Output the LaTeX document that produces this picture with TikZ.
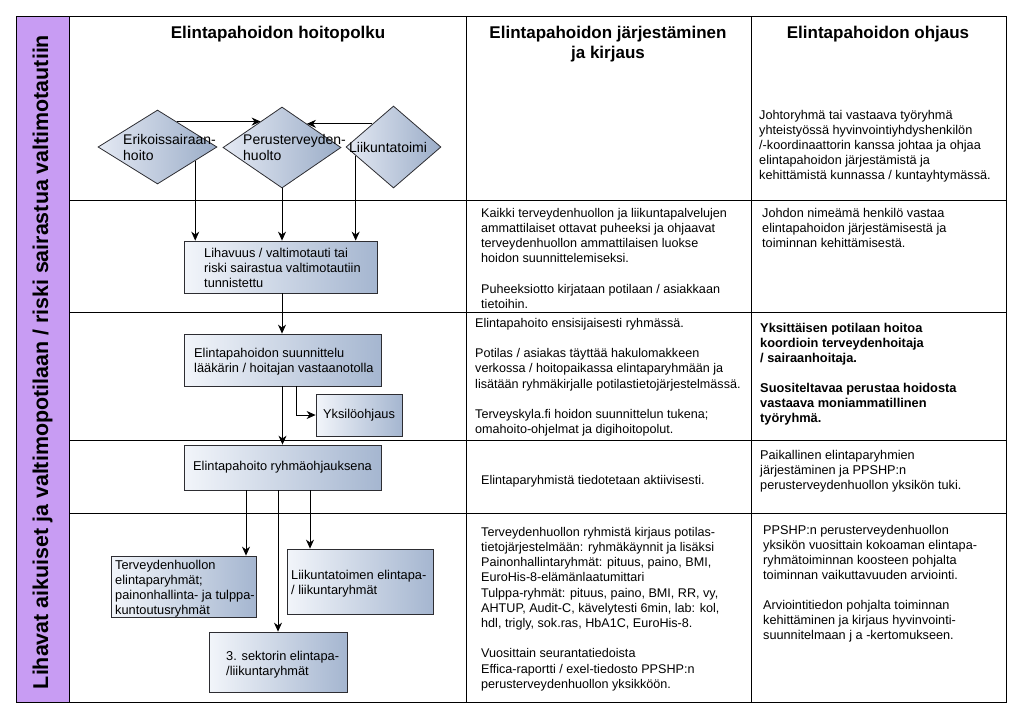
\documentclass[tikz,border=0pt]{standalone}
\usepackage{fontspec}
\setmainfont{Liberation Sans}
\usetikzlibrary{shapes.geometric,arrows.meta,calc}
\definecolor{band}{RGB}{200,156,243}
\definecolor{boxL}{RGB}{242,245,250}
\definecolor{boxR}{RGB}{165,182,208}
\definecolor{diaL}{RGB}{228,233,243}
\definecolor{diaR}{RGB}{155,173,200}
\definecolor{boxline}{RGB}{45,45,50}
\tikzset{
  gridline/.style={line width=0.9pt, black},
  fbox/.style={rectangle, draw=boxline, line width=0.8pt, left color=boxL, right color=boxR, inner sep=0},
  dia/.style={diamond, draw=boxline, line width=0.8pt, left color=diaL, right color=diaR, inner sep=0},
  flowtxt/.style={anchor=north west, inner sep=0, align=left, font=\fontsize{12.8}{15}\selectfont},
  diatxt/.style={anchor=north west, inner sep=0, align=left, font=\fontsize{14}{16}\selectfont},
  midtxt/.style={anchor=north west, inner sep=0, align=left, font=\fontsize{12.6}{15.2}\selectfont},
  righttxt/.style={anchor=north west, inner sep=0, align=left, font=\fontsize{12.7}{15}\selectfont},
  head/.style={inner sep=0, align=center, font=\bfseries\fontsize{17}{20}\selectfont},
  arr/.style={-{Stealth[length=9pt,width=8pt]}, line width=0.8pt},
}
\begin{document}
\begin{tikzpicture}[x=1pt,y=-1pt]
\useasboundingbox (0,0) rectangle (1024,713);
% table
\fill[band] (16,16) rectangle (69,702);
\draw[gridline] (16,16) rectangle (1006,702);
\draw[gridline] (69,16) -- (69,702);
\draw[gridline] (466,16) -- (466,702);
\draw[gridline] (751,16) -- (751,702);
\foreach \yy in {200,312,440,513} \draw[gridline] (69,\yy) -- (1006,\yy);
% side label
\node[rotate=90, inner sep=0, font=\bfseries\fontsize{21.4}{24}\selectfont] (side) at (42.5,362)
  {Lihavat aikuiset ja valtimopotilaan / riski sairastua valtimotautiin};
% headers
\node[head, anchor=base] (h1) at (278,38) {Elintapahoidon hoitopolku};
\node[head, anchor=north] (h2) at (608,24) {\strut Elintapahoidon järjestäminen\\ja kirjaus};
\node[head, anchor=base] (h3) at (878,38) {Elintapahoidon ohjaus};
% diamonds
\node[dia, minimum width=119pt, minimum height=74pt] (d1) at (157.5,147) {};
\node[dia, minimum width=118pt, minimum height=81pt] (d2) at (282,147.5) {};
\node[dia, minimum width=95pt, minimum height=82pt] (d3) at (393.5,147) {};
\node[diatxt] (t1) at (123,132.8) {\strut Erikoissairaan-\\hoito};
\node[diatxt] (t2) at (243,132.8) {\strut Perusterveyden-\\huolto};
\node[diatxt] (t3) at (349,140.8) {\strut Liikuntatoimi};
% boxes
\node[fbox, minimum width=193pt, minimum height=52pt] (b1) at (280.5,267) {};
\node[fbox, minimum width=197pt, minimum height=52pt] (b2) at (282.5,360) {};
\node[fbox, minimum width=86pt, minimum height=42pt, font=\fontsize{12.8}{15}\selectfont] (b3) at (359,415) {Yksilöohjaus};
\node[fbox, minimum width=197pt, minimum height=45pt, font=\fontsize{12.8}{15}\selectfont] (b4) at (282.5,467.5) {Elintapahoito ryhmäohjauksena};
\node[fbox, minimum width=145pt, minimum height=61pt] (b5) at (183.5,586.5) {};
\node[fbox, minimum width=146pt, minimum height=65pt] (b6) at (360,581.5) {};
\node[fbox, minimum width=138pt, minimum height=60pt] (b7) at (278,662) {};
\node[flowtxt] (tb1) at (204,246.5) {\strut Lihavuus / valtimotauti tai\\riski sairastua valtimotautiin\\tunnistettu};
\node[flowtxt] (tb2) at (194,346.5) {\strut Elintapahoidon suunnittelu\\lääkärin / hoitajan vastaanotolla};
\node[flowtxt] (tb5) at (115,558.5) {\strut Terveydenhuollon\\elintaparyhmät;\\painonhallinta- ja tulppa-\\kuntoutusryhmät};
\node[flowtxt] (tb6) at (291,568.5) {\strut Liikuntatoimen elintapa-\\/ liikuntaryhmät};
\node[flowtxt] (tb7) at (226,649.5) {\strut 3. sektorin elintapa-\\/liikuntaryhmät};
% connectors
\coordinate (p1) at ($(d1.north)!0.32!(d1.east)$);
\coordinate (q1) at ($(d2.north)!0.36!(d2.west)$);
\draw[arr] (p1) -- (p1 -| q1);
\coordinate (p2) at ($(d3.north)!0.44!(d3.west)$);
\coordinate (q2) at ($(d2.north)!0.42!(d2.east)$);
\draw[arr] (p2) -- (p2 -| q2);
\coordinate (e1) at ($(d1.east)!0.37!(d1.south)$);
\draw[arr] (e1) -- (e1 |- b1.north);
\draw[arr] (d2.south) -- (d2.south |- b1.north);
\coordinate (e3) at ($(d3.west)!0.21!(d3.south)$);
\draw[arr] (e3) -- (e3 |- b1.north);
\coordinate (f1) at ($(b1.south)+(1.5,0)$);
\draw[arr] (f1) -- (f1 |- b2.north);
\draw[arr] (b2.south) -- (b4.north);
\coordinate (g1) at ($(b2.south)+(13.5,0)$);
\draw[arr] (g1) |- (b3.west);
\coordinate (s1) at ($(b4.south)+(-36.5,0)$);
\draw[arr] (s1) -- (s1 |- b5.north);
\coordinate (s2) at ($(b4.south)+(-4.5,0)$);
\draw[arr] (s2) -- (s2 |- b7.north);
\coordinate (s3) at ($(b4.south)+(27.5,0)$);
\draw[arr] (s3) -- (s3 |- b6.north);
% middle column
\node[midtxt] (m1) at (481,206.4) {\strut Kaikki terveydenhuollon ja liikuntapalvelujen\\ammattilaiset ottavat puheeksi ja ohjaavat\\terveydenhuollon ammattilaisen luokse\\hoidon suunnittelemiseksi.\\[15.2pt]Puheeksiotto kirjataan potilaan / asiakkaan\\tietoihin.};
\node[midtxt] (m2) at (475,316.4) {\strut Elintapahoito ensisijaisesti ryhmässä.\\[15.2pt]Potilas / asiakas täyttää hakulomakkeen\\verkossa / hoitopaikassa elintaparyhmään ja\\lisätään ryhmäkirjalle potilastietojärjestelmässä.\\[15.2pt]Terveyskyla.fi hoidon suunnittelun tukena;\\omahoito-ohjelmat ja digihoitopolut.};
\node[midtxt] (m3) at (481,473.4) {\strut Elintaparyhmistä tiedotetaan aktiivisesti.};
\node[midtxt] (m4) at (481,525.4) {\strut Terveydenhuollon ryhmistä kirjaus potilas-\\tietojärjestelmään: ryhmäkäynnit ja lisäksi\\Painonhallintaryhmät: pituus, paino, BMI,\\EuroHis-8-elämänlaatumittari\\Tulppa-ryhmät: pituus, paino, BMI, RR, vy,\\AHTUP, Audit-C, kävelytesti 6min, lab: kol,\\hdl, trigly, sok.ras, HbA1C, EuroHis-8.\\[15.2pt]Vuosittain seurantatiedoista\\Effica-raportti / exel-tiedosto PPSHP:n\\perusterveydenhuollon yksikköön.};
% right column
\node[righttxt] (r1) at (759,108.5) {\strut Johtoryhmä tai vastaava työryhmä\\yhteistyössä hyvinvointiyhdyshenkilön\\/-koordinaattorin kanssa johtaa ja ohjaa\\elintapahoidon järjestämistä ja\\kehittämistä kunnassa / kuntayhtymässä.};
\node[righttxt] (r2) at (762,206.5) {\strut Johdon nimeämä henkilö vastaa\\elintapahoidon järjestämisestä ja\\toiminnan kehittämisestä.};
\node[righttxt, font=\bfseries\fontsize{12.8}{15}\selectfont] (r3) at (760,321.5) {\strut Yksittäisen potilaan hoitoa\\koordioin terveydenhoitaja\\/ sairaanhoitaja.\\[15pt]Suositeltavaa perustaa hoidosta\\vastaava moniammatillinen\\työryhmä.};
\node[righttxt] (r4) at (760,448.5) {\strut Paikallinen elintaparyhmien\\järjestäminen ja PPSHP:n\\perusterveydenhuollon yksikön tuki.};
\node[righttxt] (r5) at (763,523.5) {\strut PPSHP:n perusterveydenhuollon\\yksikön vuosittain kokoaman elintapa-\\ryhmätoiminnan koosteen pohjalta\\toiminnan vaikuttavuuden arviointi.\\[15pt]Arviointitiedon pohjalta toiminnan\\kehittäminen ja kirjaus hyvinvointi-\\suunnitelmaan j a -kertomukseen.};
\end{tikzpicture}
\end{document}
